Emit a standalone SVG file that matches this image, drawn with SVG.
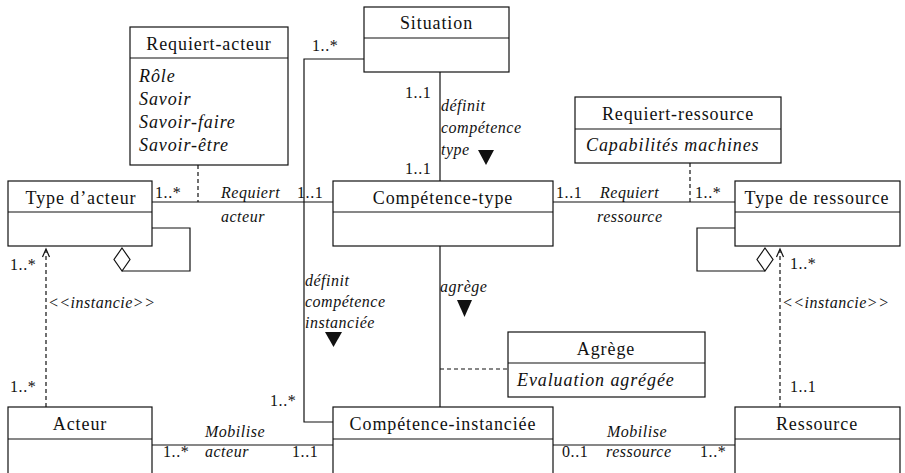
<svg xmlns="http://www.w3.org/2000/svg" width="905" height="473" viewBox="0 0 905 473">
<style>
.box{fill:#fff;stroke:#111;stroke-width:1.2}
.ln{fill:none;stroke:#111;stroke-width:1.2}
.dash{fill:none;stroke:#111;stroke-width:1.2;stroke-dasharray:4 3}
.tri{fill:#111}
</style>
<rect width="905" height="473" fill="#fff"/>
<g id="connectors">
  <line class="ln" x1="440" y1="72" x2="440" y2="181"/>
  <polyline class="ln" points="364,59 304,59 304,422 333,422"/>
  <line class="ln" x1="152" y1="202" x2="333" y2="202"/>
  <line class="dash" x1="198" y1="165" x2="198" y2="202"/>
  <line class="ln" x1="553" y1="202" x2="735" y2="202"/>
  <line class="dash" x1="690" y1="163" x2="690" y2="202"/>
  <line class="ln" x1="440" y1="246" x2="440" y2="407"/>
  <line class="dash" x1="440" y1="369" x2="508" y2="369"/>
  <polyline class="ln" points="152,228 190,228 190,271 122,271"/>
  <polygon class="box" points="122,248 130,259.5 122,271 114,259.5"/>
  <polyline class="ln" points="735,228 697,228 697,271 765,271"/>
  <polygon class="box" points="765,248 773,259.5 765,271 757,259.5"/>
  <line class="dash" x1="46" y1="407" x2="46" y2="250"/>
  <polyline class="ln" points="42.5,257 46,249 49.5,257"/>
  <line class="dash" x1="780" y1="407" x2="780" y2="250"/>
  <polyline class="ln" points="776.5,257 780,249 783.5,257"/>
  <line class="ln" x1="152" y1="445" x2="333" y2="445"/>
  <line class="ln" x1="553" y1="445" x2="735" y2="445"/>
  <polygon class="tri" points="478,150 494,150 486,165"/>
  <polygon class="tri" points="325,332 342,332 333.5,347"/>
  <polygon class="tri" points="457,300 472,300 464.5,317"/>
  <g font-family="Liberation Serif" font-size="16" letter-spacing="0.6" fill="#111">
    <text x="312" y="51">1..*</text>
    <text x="405" y="98">1..1</text>
    <text x="405" y="174">1..1</text>
    <text x="155" y="198">1..*</text>
    <text x="297" y="198">1..1</text>
    <text x="556" y="198">1..1</text>
    <text x="695" y="198">1..*</text>
    <text x="10" y="270">1..*</text>
    <text x="10" y="392">1..*</text>
    <text x="270" y="406">1..*</text>
    <text x="790" y="269">1..*</text>
    <text x="790" y="392">1..1</text>
    <text x="163" y="457">1..*</text>
    <text x="292" y="457">1..1</text>
    <text x="562" y="457">0..1</text>
    <text x="700" y="457">1..*</text>
  </g>
  <g font-family="Liberation Serif" font-size="16" letter-spacing="0.5" font-style="italic" fill="#111">
    <text x="441" y="111">définit</text>
    <text x="441" y="133">compétence</text>
    <text x="441" y="155">type</text>
    <text x="221" y="198">Requiert</text>
    <text x="221" y="222">acteur</text>
    <text x="600" y="198">Requiert</text>
    <text x="597" y="222">ressource</text>
    <text x="48" y="308">&lt;&lt;instancie&gt;&gt;</text>
    <text x="305" y="286">définit</text>
    <text x="305" y="307">compétence</text>
    <text x="305" y="328">instanciée</text>
    <text x="440" y="292">agrège</text>
    <text x="782" y="308">&lt;&lt;instancie&gt;&gt;</text>
    <text x="205" y="437">Mobilise</text>
    <text x="205" y="457">acteur</text>
    <text x="607" y="437">Mobilise</text>
    <text x="606" y="457">ressource</text>
  </g>
</g>
<g id="situation" font-family="Liberation Serif" font-size="18" letter-spacing="0.9" fill="#111">
  <rect class="box" x="364" y="7" width="145" height="65"/>
  <line class="ln" x1="364" y1="38" x2="509" y2="38"/>
  <text x="436.5" y="29" text-anchor="middle">Situation</text>
</g>
<g id="requiert-acteur" font-family="Liberation Serif" font-size="18" letter-spacing="0.9" fill="#111">
  <rect class="box" x="130" y="27" width="158" height="138"/>
  <line class="ln" x1="130" y1="58" x2="288" y2="58"/>
  <text x="209" y="50" text-anchor="middle">Requiert-acteur</text>
  <text x="139" y="82" font-style="italic">Rôle</text>
  <text x="139" y="105" font-style="italic">Savoir</text>
  <text x="139" y="128" font-style="italic">Savoir-faire</text>
  <text x="139" y="151" font-style="italic">Savoir-être</text>
</g>
<g id="requiert-ressource" font-family="Liberation Serif" font-size="18" letter-spacing="0.9" fill="#111">
  <rect class="box" x="575" y="97" width="206" height="66"/>
  <line class="ln" x1="575" y1="129" x2="781" y2="129"/>
  <text x="678" y="120" text-anchor="middle">Requiert-ressource</text>
  <text x="586" y="151" font-style="italic">Capabilités machines</text>
</g>
<g id="type-acteur" font-family="Liberation Serif" font-size="18" letter-spacing="0.9" fill="#111">
  <rect class="box" x="8" y="181" width="144" height="65"/>
  <line class="ln" x1="8" y1="212" x2="152" y2="212"/>
  <text x="81" y="204" text-anchor="middle">Type d’acteur</text>
</g>
<g id="competence-type" font-family="Liberation Serif" font-size="18" letter-spacing="0.9" fill="#111">
  <rect class="box" x="333" y="181" width="220" height="65"/>
  <line class="ln" x1="333" y1="212" x2="553" y2="212"/>
  <text x="443" y="204" text-anchor="middle">Compétence-type</text>
</g>
<g id="type-ressource" font-family="Liberation Serif" font-size="18" letter-spacing="0.9" fill="#111">
  <rect class="box" x="735" y="181" width="165" height="65"/>
  <line class="ln" x1="735" y1="212" x2="900" y2="212"/>
  <text x="817" y="204" text-anchor="middle">Type de ressource</text>
</g>
<g id="agrege" font-family="Liberation Serif" font-size="18" letter-spacing="0.9" fill="#111">
  <rect class="box" x="508" y="332" width="197" height="65"/>
  <line class="ln" x1="508" y1="363" x2="705" y2="363"/>
  <text x="606" y="355" text-anchor="middle">Agrège</text>
  <text x="517" y="386" font-style="italic">Evaluation agrégée</text>
</g>
<g id="acteur" font-family="Liberation Serif" font-size="18" letter-spacing="0.9" fill="#111">
  <rect class="box" x="8" y="407" width="144" height="80"/>
  <line class="ln" x1="8" y1="439" x2="152" y2="439"/>
  <text x="80" y="430" text-anchor="middle">Acteur</text>
</g>
<g id="competence-instanciee" font-family="Liberation Serif" font-size="18" letter-spacing="0.9" fill="#111">
  <rect class="box" x="333" y="407" width="220" height="80"/>
  <line class="ln" x1="333" y1="439" x2="553" y2="439"/>
  <text x="443" y="430" text-anchor="middle">Compétence-instanciée</text>
</g>
<g id="ressource" font-family="Liberation Serif" font-size="18" letter-spacing="0.9" fill="#111">
  <rect class="box" x="735" y="407" width="165" height="80"/>
  <line class="ln" x1="735" y1="439" x2="900" y2="439"/>
  <text x="817" y="430" text-anchor="middle">Ressource</text>
</g>
</svg>
